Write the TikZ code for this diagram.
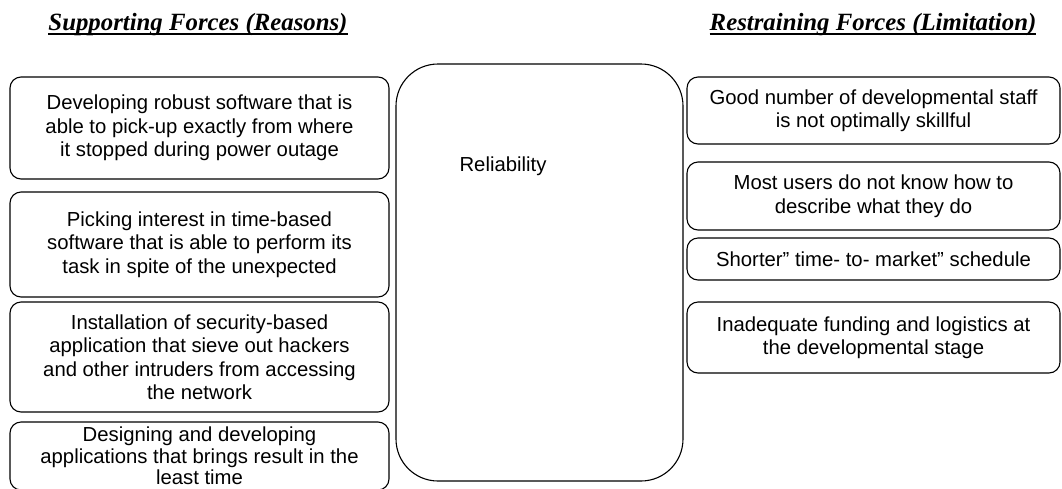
\documentclass[tikz,border=0pt]{standalone}
\usepackage{fontspec}
\setmainfont{Liberation Serif}
\setsansfont{Liberation Sans}
\tikzset{
  force/.style={draw, line width=1.1pt, rounded corners=11pt, align=center,
    inner sep=0pt, minimum width=#1,
    font=\sffamily\fontsize{20.3}{23.5}\selectfont},
  force/.default=379pt,
  tight/.style={font=\sffamily\fontsize{20.3}{21.5}\selectfont},
  heading/.style={inner sep=0pt, anchor=base,
    font=\rmfamily\bfseries\itshape\fontsize{24.8}{28}\selectfont},
  headrule/.style={line width=1.5pt},
  core/.style={draw, line width=1.1pt, rounded corners=42pt, inner sep=0pt,
    minimum width=287pt, minimum height=417pt},
  corelabel/.style={inner sep=0pt, font=\sffamily\fontsize{20.3}{23.5}\selectfont}
}
\begin{document}
\begin{tikzpicture}[x=1pt,y=-1pt]
\useasboundingbox (0,0) rectangle (1062,488);
\clip (0,0) rectangle (1062,488);

% column headings
\node[heading] (hsup) at (198,30) {Supporting Forces (Reasons)};
\node[heading] (hres) at (873,30) {Restraining Forces (Limitation)};
\draw[headrule] ([yshift=-4pt]hsup.base west) -- ([yshift=-4pt]hsup.base east);
\draw[headrule] ([yshift=-4pt]hres.base west) -- ([yshift=-4pt]hres.base east);

% central quality box
\node[core] (rel) at (539.5,272.5) {};
\node[corelabel] (reltext) at (503,166) {Reliability};

% supporting forces
\node[force, minimum height=102pt] (s1) at (199.5,128)
  {Developing robust software that is\\able to pick-up exactly from where\\it stopped during power outage};
\node[force, minimum height=105pt] (s2) at (199.5,244.5)
  {Picking interest in time-based\\software that is able to perform its\\task in spite of the unexpected};
\node[force, minimum height=110pt] (s3) at (199.5,357)
  {Installation of security-based\\application that sieve out hackers\\and other intruders from accessing\\the network};
\node[force, tight, minimum height=68pt] (s4) at (199.5,456)
  {Designing and developing\\applications that brings result in the\\least time};

% restraining forces
\node[force=373pt, minimum height=67pt] (r1) at (873.5,110.5)
  {Good number of developmental staff\\is not optimally skillful};
\node[force=373pt, minimum height=68pt] (r2) at (873.5,196)
  {Most users do not know how to\\describe what they do};
\node[force=373pt, minimum height=42pt] (r3) at (873.5,259)
  {Shorter” time- to- market” schedule};
\node[force=373pt, minimum height=71pt] (r4) at (873.5,337.5)
  {Inadequate funding and logistics at\\the developmental stage};
\end{tikzpicture}
\end{document}
